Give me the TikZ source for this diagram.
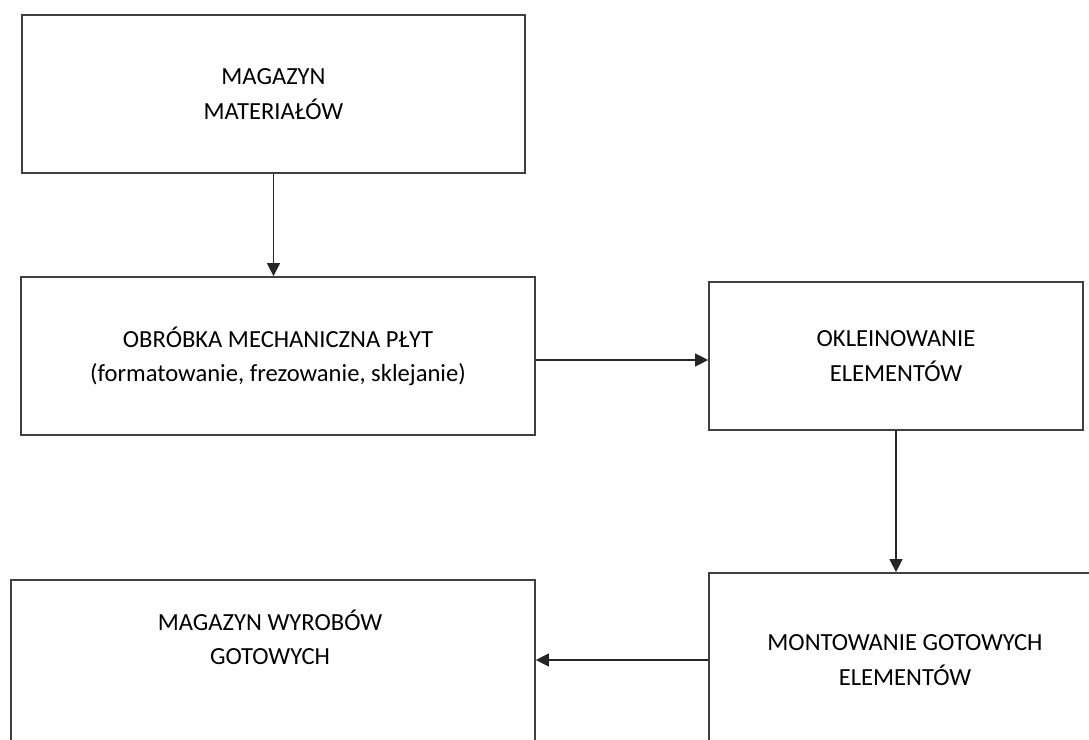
\documentclass[tikz,border=0pt]{standalone}
\usepackage{fontspec}
\setmainfont{Carlito}
\usetikzlibrary{arrows.meta}

\begin{document}
\begin{tikzpicture}[
    x=0.02cm, y=-0.02cm,
    box/.style={rectangle, draw=black!75, line width=1pt, align=center, font=\fontsize{14}{19.5}\selectfont},
    txt/.style={align=center, font=\fontsize{14}{19.5}\selectfont},
    arrow/.style={-{Triangle[length=0.26cm, width=0.26cm]}, black!85, line width=0.6pt}
]
\clip (0,0) rectangle (1089,740);
\fill[white] (0,0) rectangle (1089,740);

% Magazyn materialow
\node[box, minimum width=10.06cm, minimum height=3.16cm] (magmat) at (273.5,94) {MAGAZYN\\MATERIAŁÓW};

% Obrobka mechaniczna
\node[box, minimum width=10.28cm, minimum height=3.16cm] (obrobka) at (278,356) {OBRÓBKA MECHANICZNA PŁYT\\(formatowanie, frezowanie, sklejanie)};

% Okleinowanie
\node[box, minimum width=7.48cm, minimum height=2.96cm] (oklein) at (896,356) {OKLEINOWANIE\\ELEMENTÓW};

% Montowanie
\node[box, minimum width=7.84cm, minimum height=3.48cm] (montaz) at (905,660) {MONTOWANIE GOTOWYCH\\ELEMENTÓW};

% Magazyn wyrobow gotowych
\node[box, minimum width=10.48cm, minimum height=3.6cm] (magwyr) at (273,670) {};
\node[txt] (magwyrtxt) at (270,637) {MAGAZYN WYROBÓW\\GOTOWYCH};

% Strzalki
\draw[arrow] (magmat.south) -- (magmat.south |- obrobka.north);
\draw[arrow] ([yshift=-0.08cm]obrobka.east) -- ([yshift=-0.08cm]obrobka.east -| oklein.west);
\draw[arrow] (oklein.south) -- (oklein.south |- montaz.north);
\draw[arrow] (montaz.west) -- (montaz.west -| magwyr.east);

\end{tikzpicture}
\end{document}
